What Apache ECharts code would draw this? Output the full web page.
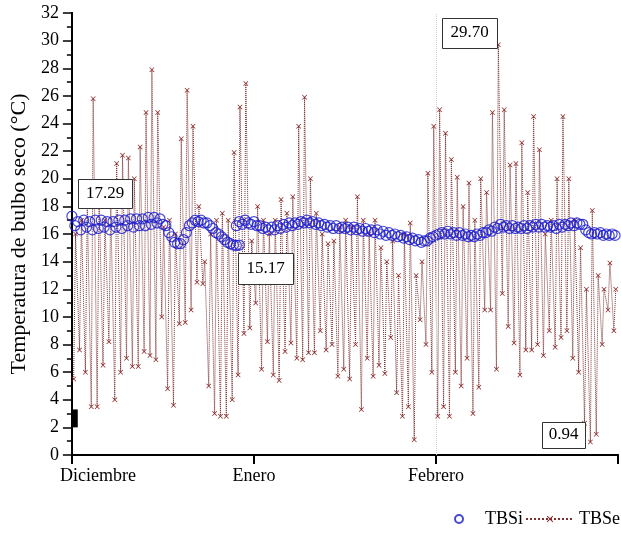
<!DOCTYPE html>
<html>
<head>
<meta charset="utf-8">
<script src="https://cdn.jsdelivr.net/npm/echarts@6/dist/echarts.min.js"></script>
<style>
  html, body { margin: 0; padding: 0; background: #fff; }
  #chart { width: 621px; height: 533px; }
</style>
</head>
<body>
<div id="chart"></div>
<script>
// eje x en dias desde el 1 de diciembre
var monthLabels = ['Diciembre', 'Enero', 'Febrero'];
var monthStart = [0, 31, 62];
var yTicks = [0, 32, 2];

// TBSe: minimo (madrugada) y maximo (tarde) de cada dia
var tbseMin = [5.5, 7.6, 6, 3.5, 3.5, 6.5, 8.2, 4.0, 6, 7,
  6.4, 6.4, 7.5, 7.2, 6.9, 10, 4.8, 3.6, 9.5, 9.6,
  10.5, 12.5, 12.4, 5, 3, 2.8, 2.8, 4.0, 5.8, 8.8,
  9.2, 11, 6.2, 8.2, 5.8, 5.4, 7.5, 8.1, 7, 6.9,
  7.4, 7.4, 9, 7.6, 8, 5.7, 6.2, 5.5, 8, 3.3,
  7, 5.7, 6.5, 5.9, 8.5, 4.5, 2.8, 3.5, 1.1, 9.8,
  8, 6, 2.8, 3.5, 2.8, 6, 5, 7, 3, 4.9,
  10.5, 10.5, 6.2, 11.7, 9.3, 8.1, 5.8, 7.6, 7.6, 8,
  7.2, 9, 7.8, 8.5, 9, 7, 6, 2.3, 0.94, 1.5,
  8, 10.5, 9];
var tbseMax = [16, 17, 18, 25.8, 19, 17, 18, 21.1, 21.7, 21.5,
  20, 22.3, 24.8, 27.9, 24.8, 16.5, 17, 16, 22.9, 26.4,
  23.8, 18, 14, 16, 17, 17.5, 17, 21.9, 25.2, 26.9,
  15.5, 18, 17, 16, 17, 18.5, 17.5, 18.7, 23.8, 25.9,
  20, 17.5, 16, 15.3, 15.5, 16.5, 17, 16.5, 18.7, 17,
  16, 17, 15, 14, 15.5, 13, 16, 16.8, 13, 14,
  20.4, 23.8, 25.0, 23.3, 21.4, 20.1, 18, 19.7, 17, 20,
  19, 24.8, 29.7, 25, 21, 21.1, 22.6, 19, 24.5, 22.1,
  16, 17, 20, 24.5, 20, 17, 15, 12, 17.7, 13,
  12, 13.9, 12];

// TBSi cada medio dia, dos tramos que se solapan a fin de diciembre
var tbsiA = [17.29, 16.6, 16.9, 16.3, 17.0, 16.5, 16.9, 16.3, 17.0, 16.4,
  17.0, 16.5, 16.9, 16.3, 16.9, 16.5, 17.0, 16.4, 17.0, 16.6,
  17.1, 16.5, 17.1, 16.6, 17.1, 16.6, 17.2, 16.7, 17.2, 16.8,
  17.1, 16.7, 16.6, 16.1, 15.8, 15.4, 15.3, 15.3, 15.6, 16.1,
  16.6, 16.8, 17.0, 16.9, 17.0, 16.8, 16.8, 16.6, 16.4, 16.1,
  16.0, 15.8, 15.6, 15.4, 15.3, 15.2, 15.17, 15.2];
var tbsiBStart = 28;
var tbsiB = [16.6, 16.9, 16.7, 17.0, 16.8, 16.7, 16.9, 16.6, 16.6, 16.4,
  16.5, 16.3, 16.5, 16.3, 16.6, 16.4, 16.7, 16.5, 16.8, 16.6,
  16.8, 16.7, 16.9, 16.8, 17.0, 16.8, 16.9, 16.7, 16.8, 16.6,
  16.7, 16.5, 16.6, 16.4, 16.6, 16.4, 16.5, 16.4, 16.5, 16.3,
  16.5, 16.3, 16.4, 16.2, 16.4, 16.2, 16.3, 16.1, 16.3, 16.0,
  16.2, 15.9, 16.1, 15.9, 16.0, 15.8, 15.9, 15.7, 15.8, 15.6,
  15.7, 15.5, 15.6, 15.4, 15.5, 15.5, 15.7, 15.8, 15.9, 16.0,
  16.1, 16.0, 16.2, 16.0, 16.1, 15.9, 16.1, 15.9, 16.0, 15.8,
  15.9, 15.8, 16.0, 15.9, 16.1, 16.1, 16.3, 16.2, 16.5, 16.4,
  16.7, 16.5, 16.6, 16.4, 16.6, 16.4, 16.5, 16.4, 16.6, 16.4,
  16.6, 16.5, 16.7, 16.5, 16.7, 16.5, 16.6, 16.5, 16.6, 16.4,
  16.7, 16.5, 16.7, 16.6, 16.8, 16.6, 16.8, 16.7, 16.7, 16.3,
  16.1, 16.0, 16.1, 16.0, 16.1, 15.9, 16.0, 15.9, 16.0, 15.9];

// cajas de valores extremos
var noteTexts = ['17.29', '15.17', '29.70', '0.94'];
var noteBoxes = [[78, 179, 54, 29], [238, 253, 55, 31], [442, 18, 55, 30], [542, 422, 43, 26]];

var serif = 'Liberation Serif';

var tbseData = [];
for (var i = 0; i < tbseMax.length; i++) {
  tbseData.push([i + 0.3, tbseMin[i]]);
  tbseData.push([i + 0.62, tbseMax[i]]);
}
var tbsiData = [];
tbsiA.forEach(function (v, k) { tbsiData.push([k * 0.5, v]); });
tbsiB.forEach(function (v, k) { tbsiData.push([tbsiBStart + k * 0.5, v]); });

var crossPath = 'path://M0,1L1,0L5,4L9,0L10,1L6,5L10,9L9,10L5,6L1,10L0,9L4,5Z';

var graphics = [];
noteTexts.forEach(function (t, k) {
  var b = noteBoxes[k];
  graphics.push({
    type: 'rect', left: b[0], top: b[1], z: 100,
    shape: { width: b[2], height: b[3] },
    style: { fill: '#fff', stroke: '#333', lineWidth: 1 }
  });
  graphics.push({
    type: 'text', x: b[0] + b[2] / 2, y: b[1] + b[3] / 2, z: 101,
    style: { text: t, fill: '#000', font: '17px ' + serif, textAlign: 'center', textVerticalAlign: 'middle' }
  });
});

var chart = echarts.init(document.getElementById('chart'));
chart.setOption({
  animation: false,
  backgroundColor: '#fff',
  grid: { left: 71, right: 2, top: 13, bottom: 78 },
  xAxis: [{
    type: 'value', min: 0, max: 93, interval: 31,
    axisLine: { lineStyle: { color: '#000', width: 2 } },
    axisTick: { inside: false, length: 9, lineStyle: { color: '#000', width: 2 } },
    splitLine: { show: false },
    axisLabel: {
      margin: 12, color: '#000', fontFamily: serif, fontSize: 18,
      formatter: function (v) {
        var k = monthStart.indexOf(v);
        if (k < 0) return '';
        return k === 0 ? '{first|' + monthLabels[k] + '}' : monthLabels[k];
      },
      rich: { first: { fontFamily: serif, fontSize: 18, color: '#000', padding: [0, 0, 0, 52] } }
    }
  }, {
    type: 'value', position: 'top', min: 0, max: 93,
    axisLine: { show: true, lineStyle: { color: '#000', width: 2 } },
    axisTick: { show: false }, axisLabel: { show: false }, splitLine: { show: false }
  }],
  yAxis: [{
    type: 'value', min: yTicks[0], max: yTicks[1], interval: yTicks[2],
    name: 'Temperatura de bulbo seco (°C)', nameLocation: 'middle', nameGap: 40,
    nameTextStyle: { fontFamily: serif, fontSize: 22, color: '#000' },
    axisLine: { show: true, lineStyle: { color: '#000', width: 2 } },
    axisTick: { show: true, length: 9, lineStyle: { color: '#000', width: 1.5 } },
    minorTick: { show: true, splitNumber: 2, length: 5, lineStyle: { color: '#000', width: 1.5 } },
    splitLine: { show: false },
    axisLabel: { margin: 13, color: '#000', fontFamily: serif, fontSize: 18 }
  }, {
    type: 'value', position: 'right', min: yTicks[0], max: yTicks[1],
    axisLine: { show: true, lineStyle: { color: '#000', width: 2 } },
    axisTick: { show: false }, axisLabel: { show: false }, splitLine: { show: false }
  }],
  legend: [{
    data: ['TBSi'], left: 449, top: 505, itemWidth: 10, itemHeight: 8, itemGap: 0,
    textStyle: { fontFamily: serif, fontSize: 18, color: '#000', padding: [0, 0, 0, 16] }
  }, {
    data: ['TBSe'], left: 520, top: 505, itemWidth: 48, itemHeight: 8, itemGap: 0,
    textStyle: { fontFamily: serif, fontSize: 18, color: '#000' }
  }],
  graphic: graphics,
  series: [{
    name: 'TBSe', type: 'line', data: tbseData, z: 2,
    symbol: crossPath, symbolSize: 5, showAllSymbol: true,
    itemStyle: { color: '#8b2323' },
    lineStyle: { color: '#7a3030', width: 1, type: 'dotted' },
    markLine: {
      silent: true, symbol: 'none', label: { show: false },
      lineStyle: { color: '#d0d0d0', type: 'dotted', width: 1 },
      data: [{ xAxis: monthStart[2] }]
    },
    markArea: {
      silent: true, itemStyle: { color: '#000' },
      data: [[{ coord: [0, 2.0] }, { coord: [1, 3.3] }]]
    }
  }, {
    name: 'TBSi', type: 'scatter', data: tbsiData, z: 3,
    symbol: 'circle', symbolSize: 10,
    itemStyle: { color: 'rgba(0,0,0,0)', borderColor: '#1a1acc', borderWidth: 1.2 }
  }]
});
</script>
</body>
</html>
